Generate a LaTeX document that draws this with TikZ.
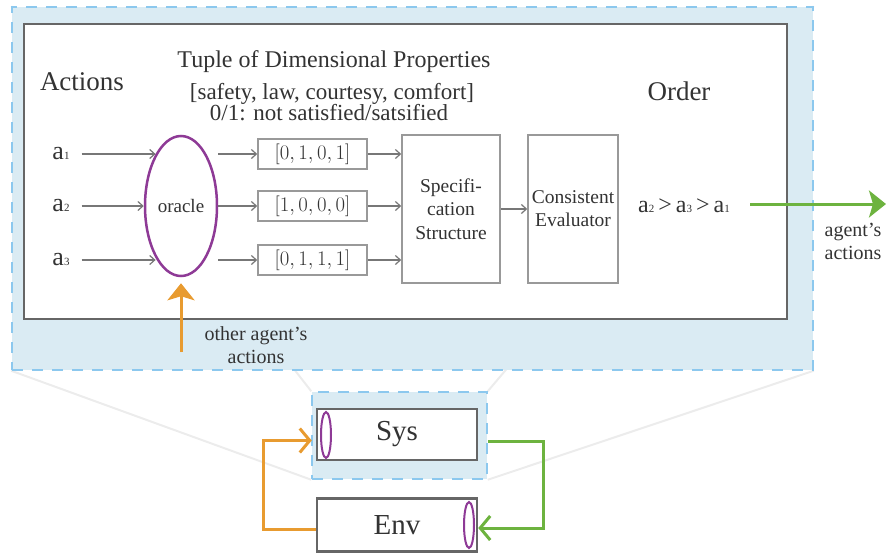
\documentclass[tikz,border=0pt]{standalone}
\usepackage{fontspec}
\setmainfont{Liberation Serif}
\usetikzlibrary{shapes.geometric,arrows.meta,backgrounds}

\definecolor{panelblue}{HTML}{DAEBF3}
\definecolor{dashblue}{HTML}{8CC8EE}
\definecolor{framegray}{HTML}{666666}
\definecolor{boxgray}{HTML}{999999}
\definecolor{arrowgray}{HTML}{777777}
\definecolor{textgray}{HTML}{333333}
\definecolor{oraclepurple}{HTML}{8E3A96}
\definecolor{feedorange}{HTML}{E89B30}
\definecolor{feedgreen}{HTML}{6DB33F}
\definecolor{zoomgray}{HTML}{ECECEC}

\newcommand{\fs}[1]{\fontsize{#1}{#1}\selectfont}
\newcommand{\act}[1]{a{\fs{11}#1}}

\tikzset{
  panel/.style={fill=panelblue, draw=dashblue, line width=1.5pt, dash pattern=on 11pt off 9pt, inner sep=0pt},
  frame/.style={fill=white, draw=framegray, line width=2.5pt, inner sep=0pt},
  headline/.style={text=textgray, font=\fs{27}},
  subline/.style={text=textgray, font=\fs{23}, inner sep=0pt},
  actlabel/.style={text=textgray, font=\fs{26}, inner xsep=12pt},
  oracle/.style={ellipse, draw=oraclepurple, line width=2.5pt, minimum width=72pt, minimum height=140pt, inner sep=0pt, text=textgray, font=\fs{19}},
  propbox/.style={draw=boxgray, line width=1.5pt, inner sep=0pt, align=center, text=textgray},
  smalltext/.style={text=textgray, align=center, font=\fontsize{20}{23}\selectfont},
  thinarrow/.style={draw=arrowgray, line width=1.2pt, -{Straight Barb[length=5pt,width=9pt]}},
  bigarrow/.style={line width=3pt, -{Stealth[length=17pt,width=27pt,inset=4pt]}},
  agentbox/.style={fill=white, draw=framegray, line width=2.5pt, minimum width=160pt, inner sep=0pt, text=textgray, font=\fs{29}},
  port/.style={ellipse, draw=oraclepurple, line width=2pt, minimum width=10pt, minimum height=46pt, inner sep=0pt},
  loopback/.style={line width=3pt, -{Straight Barb[length=10pt,width=24pt]}},
  zoomline/.style={draw=zoomgray, line width=2pt}
}

\begin{document}
\begin{tikzpicture}[x=1pt,y=-1pt]
\useasboundingbox (0,0) rectangle (886,555);

% zoomed panel
\node[panel, minimum width=801pt, minimum height=363pt] (panel) at (412.5,188.5) {};
\node[frame, minimum width=763pt, minimum height=295pt] (frame) at (405.5,171.5) {};

\node[headline] (actlab) at (82,82) {Actions};
\node[subline, font=\fs{24}] (tuplab) at (334,62) {Tuple of Dimensional Properties};
\node[subline] (proplab) at (332,94) {[safety, law, courtesy, comfort]};
\node[subline] (binlab) at (329,113) {0/1: not satisfied/satsified};
\node[headline] (ordlab) at (679,91) {Order};

% actions and oracle
\node[actlabel] (a1) at (61,154) {\act{1}};
\node[actlabel] (a2) at (61,206) {\act{2}};
\node[actlabel] (a3) at (61,260) {\act{3}};
\node[oracle] (oracle) at (181,206) {oracle};

\draw[thinarrow] (a1.east) -- (a1 -| oracle.116);
\draw[thinarrow] (a2.east) -- (oracle.west);
\draw[thinarrow] (a3.east) -- (a3 -| oracle.244);

% tuples
\node[propbox, minimum width=109pt, minimum height=30pt, font=\fs{20}] (t1) at (312.5,154) {$[0,1,0,1]$};
\node[propbox, minimum width=109pt, minimum height=30pt, font=\fs{20}] (t2) at (312.5,206) {$[1,0,0,0]$};
\node[propbox, minimum width=109pt, minimum height=30pt, font=\fs{20}] (t3) at (312.5,260) {$[0,1,1,1]$};

\draw[thinarrow] (t1 -| oracle.east) -- (t1.west);
\draw[thinarrow] (t2 -| oracle.east) -- (t2.west);
\draw[thinarrow] (t3 -| oracle.east) -- (t3.west);

% structure and evaluator
\node[propbox, minimum width=98pt, minimum height=148pt, font=\fontsize{19.5}{23.5}\selectfont] (spec) at (451,209) {Specifi-\\cation\\Structure};
\node[propbox, minimum width=90pt, minimum height=148pt, font=\fontsize{19.5}{23}\selectfont] (cons) at (573,209) {Consistent\\Evaluator};

\draw[thinarrow] (t1.east) -- (t1 -| spec.west);
\draw[thinarrow] (t2.east) -- (t2 -| spec.west);
\draw[thinarrow] (t3.east) -- (t3 -| spec.west);
\draw[thinarrow] (spec.east) -- (cons.west);

\node[actlabel, font=\fs{24}, inner xsep=0pt] (ord) at (684,206) {\act{2}\,>\,\act{3}\,>\,\act{1}};

% output and input of the agent
\coordinate (outstart) at (750,204);
\coordinate (outend) at (886,204);
\draw[bigarrow, draw=feedgreen, fill=feedgreen] (outstart) -- (outend);
\node[smalltext] (agentlab) at (853,241) {agent's\\actions};

\coordinate (othstart) at (181,352);
\draw[bigarrow, draw=feedorange, fill=feedorange, shorten >=6pt] (othstart) -- (oracle.south);
\node[smalltext] (otherlab) at (256,345) {other agent's\\actions};

% loop
\node[panel, minimum width=175pt, minimum height=87pt] (zoompanel) at (399.5,435.5) {};
\node[agentbox, minimum height=51pt] (sys) at (397,434.5) {Sys};
\node[agentbox, minimum height=53pt] (env) at (397,525) {Env};
\node[port] (sysport) at (326,435) {};
\node[port] (envport) at (469,525) {};

\draw[loopback, draw=feedorange, shorten >=4pt] ([yshift=-4pt]env.west) -- ++(-52,0) |- ([yshift=-6pt]sys.west);
\draw[loopback, draw=feedgreen] ([yshift=-6pt]zoompanel.east) -- ++(56,0) |- ([yshift=-3pt]env.east);

\begin{scope}[on background layer]
\draw[zoomline] (zoompanel.north west) -- (panel.north west);
\draw[zoomline] (zoompanel.south west) -- (panel.south west);
\draw[zoomline] (zoompanel.north east) -- (panel.north east);
\draw[zoomline] (zoompanel.south east) -- (panel.south east);
\end{scope}
\end{tikzpicture}
\end{document}
